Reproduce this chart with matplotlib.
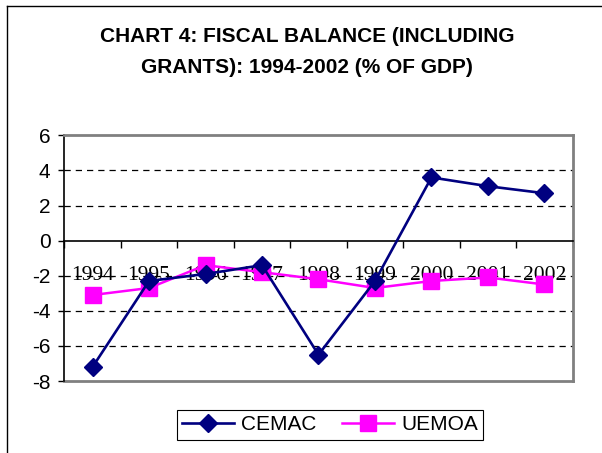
import matplotlib
matplotlib.use("Agg")
import matplotlib.pyplot as plt
from matplotlib.lines import Line2D
from matplotlib.ticker import FixedLocator, NullFormatter

years = ["1994", "1995", "1996", "1997", "1998", "1999", "2000", "2001", "2002"]
cemac = [-7.2, -2.3, -1.9, -1.4, -6.5, -2.3, 3.6, 3.1, 2.7]
uemoa = [-3.1, -2.7, -1.4, -1.8, -2.2, -2.7, -2.3, -2.1, -2.5]
yticks = [-8, -6, -4, -2, 0, 2, 4, 6]

fig = plt.figure(figsize=(6.02, 4.53), dpi=100)
ax = fig.add_axes([0.1068, 0.1589, 0.8445, 0.5424])

x = [i + 0.5 for i in range(len(years))]
ax.plot(x, cemac, color="#000080", lw=1.9, marker="D", ms=9.5, label="CEMAC", zorder=4)
ax.plot(x, uemoa, color="#FF00FF", lw=1.8, marker="s", ms=11, label="UEMOA", zorder=3)

ax.set_xlim(0, len(years))
ax.set_ylim(-8, 6)

# dashed grid lines
for v in yticks:
    if v not in (-8, 0, 6):
        ax.axhline(v, color="black", lw=0.9, ls=(0, (5, 4)), zorder=1)

# category axis crosses at zero
ax.spines["bottom"].set_position(("data", 0))
ax.spines["bottom"].set_color("black")
ax.spines["bottom"].set_linewidth(1.2)
ax.spines["left"].set_color("black")
ax.spines["left"].set_linewidth(1.2)
for s in ("top", "right"):
    ax.spines[s].set_color("#808080")
    ax.spines[s].set_linewidth(2)
ax.axhline(-8, color="#808080", lw=2, clip_on=False, zorder=2)

ax.xaxis.set_major_locator(FixedLocator(range(len(years) + 1)))
ax.xaxis.set_major_formatter(NullFormatter())
ax.xaxis.set_minor_locator(FixedLocator(x))
ax.set_xticklabels(years, minor=True, fontfamily="Liberation Serif", fontsize=15.5)
ax.tick_params(axis="x", which="major", direction="out", length=5, width=1, color="black")
ax.tick_params(axis="x", which="minor", length=0, pad=18)

ax.set_yticks(yticks)
ax.set_yticklabels([str(v) for v in yticks], fontfamily="Liberation Sans", fontsize=15)
ax.tick_params(axis="y", direction="out", length=4, width=1, pad=6)

fig.text(0.510, 0.886, "CHART 4: FISCAL BALANCE (INCLUDING\nGRANTS): 1994-2002 (% OF GDP)",
         ha="center", va="center", fontsize=15, fontweight="bold",
         fontfamily="Liberation Sans", linespacing=1.8)

leg = fig.legend(loc="center", bbox_to_anchor=(0.548, 0.062), ncol=2,
                 prop={"family": "Liberation Sans", "size": 15},
                 fancybox=False, edgecolor="black", framealpha=1,
                 handlelength=2.5, handletextpad=0.35, columnspacing=1.2,
                 borderpad=0.25, borderaxespad=0)
leg.get_frame().set_linewidth(0.8)

# outer chart frame
fig.add_artist(Line2D([0.011, 0.011], [0.0, 0.986], transform=fig.transFigure, color="black", lw=1))
fig.add_artist(Line2D([0.011, 1.0], [0.986, 0.986], transform=fig.transFigure, color="black", lw=1))

fig.savefig("out.png", dpi=100)
